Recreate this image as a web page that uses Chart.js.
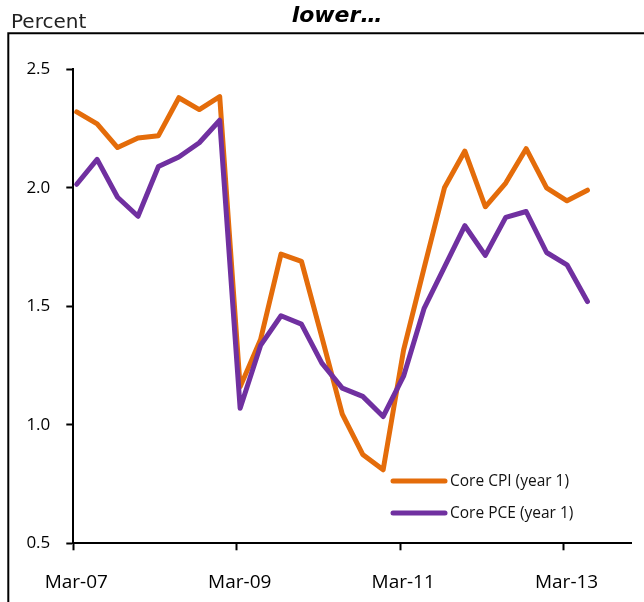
<!DOCTYPE html>
<html>
<head>
<meta charset="utf-8">
<title>lower…</title>
<script src="https://cdn.jsdelivr.net/npm/chart.js@4"></script>
<style>
  html, body { margin: 0; padding: 0; background: #fff; }
  canvas { display: block; }
</style>
</head>
<body>
<canvas id="chart" width="644" height="602"></canvas>
<script>
// Quarterly survey dates, Mar-07 through Jun-13
const quarters = [
  'Mar-07','Jun-07','Sep-07','Dec-07','Mar-08','Jun-08','Sep-08','Dec-08',
  'Mar-09','Jun-09','Sep-09','Dec-09','Mar-10','Jun-10','Sep-10','Dec-10',
  'Mar-11','Jun-11','Sep-11','Dec-11','Mar-12','Jun-12','Sep-12','Dec-12',
  'Mar-13','Jun-13'
];

// Year-ahead core inflation, percent
const coreCPI = [
  2.32, 2.27, 2.17, 2.21, 2.22, 2.38, 2.33, 2.385,
  1.16, 1.36, 1.72, 1.69, 1.37, 1.045, 0.875, 0.81,
  1.315, 1.66, 2.00, 2.155, 1.92, 2.02, 2.165, 2.00,
  1.945, 1.99
];
const corePCE = [
  2.015, 2.12, 1.96, 1.88, 2.09, 2.13, 2.19, 2.285,
  1.07, 1.335, 1.46, 1.425, 1.26, 1.155, 1.12, 1.035,
  1.205, 1.49, 1.665, 1.84, 1.715, 1.875, 1.90, 1.727,
  1.675, 1.52
];

// Axis labels (months counted from Mar-07)
const xTickLabels = ['Mar-07', 'Mar-09', 'Mar-11', 'Mar-13'];
const xTickMonths = [0, 24, 48, 72];
const yTicks = [0.5, 1.0, 1.5, 2.0, 2.5];

const seriesNames = ['Core CPI (year 1)', 'Core PCE (year 1)'];
const seriesColors = ['#E46C0A', '#7030A0'];

// surveys are dated mid-month; x is measured in months from Mar-07
const toPoints = vals => vals.map((v, i) => ({ x: i * 3 + 0.5, y: v }));

const tickFont = 'Open Sans';

const decor = {
  id: 'decor',
  beforeDraw(chart) {
    const c = chart.ctx;
    c.save();
    c.fillStyle = '#fff';
    c.fillRect(0, 0, chart.width, chart.height);
    c.restore();
  },
  afterDraw(chart) {
    const c = chart.ctx;
    c.save();
    // outer frame
    c.strokeStyle = '#000';
    c.lineWidth = 2;
    c.beginPath();
    c.moveTo(8.3, chart.height + 2);
    c.lineTo(8.3, 33.3);
    c.lineTo(chart.width + 2, 33.3);
    c.stroke();

    // heading and unit
    c.fillStyle = '#000';
    c.textBaseline = 'alphabetic';
    c.textAlign = 'center';
    c.font = 'italic bold 22px "DejaVu Sans"';
    c.fillText('lower…', 337, 21.7);
    c.textAlign = 'left';
    c.fillStyle = '#222';
    c.font = '20px "DejaVu Sans"';
    c.fillText('Percent', 11, 28.3);

    // legend
    c.font = '15.5px "' + tickFont + '"';
    c.textBaseline = 'middle';
    c.lineCap = 'round';
    const rows = [481, 513];
    chart.data.datasets.forEach((ds, i) => {
      const y = rows[i];
      c.strokeStyle = ds.borderColor;
      c.lineWidth = 5;
      c.beginPath();
      c.moveTo(393, y);
      c.lineTo(445, y);
      c.stroke();
      c.fillStyle = '#111';
      c.fillText(ds.label, 450, y + 0.5);
    });
    c.restore();
  }
};

new Chart(document.getElementById('chart'), {
  type: 'line',
  data: {
    datasets: [
      {
        label: seriesNames[0],
        data: toPoints(coreCPI),
        borderColor: seriesColors[0],
        backgroundColor: seriesColors[0],
        borderWidth: 5,
        pointRadius: 0,
        tension: 0,
        order: 1,
        borderJoinStyle: 'round',
        borderCapStyle: 'round'
      },
      {
        label: seriesNames[1],
        data: toPoints(corePCE),
        borderColor: seriesColors[1],
        backgroundColor: seriesColors[1],
        borderWidth: 5,
        pointRadius: 0,
        tension: 0,
        order: 0,
        borderJoinStyle: 'round',
        borderCapStyle: 'round'
      }
    ]
  },
  options: {
    responsive: false,
    animation: false,
    layout: { padding: { top: 69.3, left: 0, right: 12.3, bottom: 0 } },
    plugins: {
      legend: { display: false },
      title: { display: false },
      tooltip: { enabled: false }
    },
    scales: {
      x: {
        type: 'linear',
        min: 0,
        max: 82,
        afterBuildTicks: s => { s.ticks = xTickMonths.map(v => ({ value: v })); },
        afterFit: s => { s.height = 602 - 543.3; },
        ticks: {
          callback: v => xTickLabels[xTickMonths.indexOf(v)],
          font: { family: tickFont, size: 19 },
          color: '#000',
          padding: 21,
          maxRotation: 0,
          labelOffset: 3
        },
        grid: {
          drawOnChartArea: false,
          drawTicks: true,
          tickLength: 7,
          tickWidth: 2,
          tickColor: '#000'
        },
        border: { display: true, color: '#000', width: 2 }
      },
      y: {
        min: 0.5,
        max: 2.5,
        afterBuildTicks: s => { s.ticks = yTicks.map(v => ({ value: v })); },
        afterFit: s => { s.width = 73.3; },
        ticks: {
          callback: v => v.toFixed(1),
          font: { family: tickFont, size: 17 },
          color: '#000',
          padding: 16
        },
        grid: {
          drawOnChartArea: false,
          drawTicks: true,
          tickLength: 7,
          tickWidth: 2,
          tickColor: '#000'
        },
        border: { display: true, color: '#000', width: 2 }
      }
    }
  },
  plugins: [decor]
});
</script>
</body>
</html>
